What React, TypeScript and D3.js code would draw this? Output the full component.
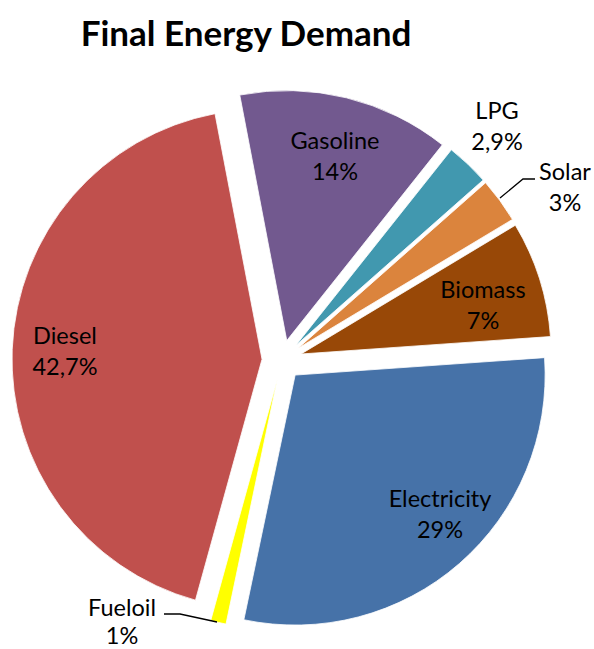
import React from "react";
import * as d3 from "d3";

const categories = ["Electricity", "Fueloil", "Diesel", "Gasoline", "LPG", "Solar", "Biomass"];
const values = [29.4, 1.0, 42.7, 13.7, 2.8, 2.9, 7.5];
const labelTexts = ["29%", "1%", "42,7%", "14%", "2,9%", "3%", "7%"];
const colors = ["#4672A8", "#FFFF00", "#C0504D", "#72598F", "#4198AF", "#DB843D", "#984807"];

// label layout (text anchor centres, first-line baseline, line gap)
const labelPos: Record<string, [number, number, number]> = {
  Electricity: [440, 507, 31],
  Fueloil: [122, 616, 28],
  Diesel: [65, 344, 31],
  Gasoline: [335, 149, 31],
  LPG: [497, 119, 31],
  Solar: [565, 180, 31],
  Biomass: [483, 298, 31],
};

const W = 594;
const H = 649;
const CX = 282;
const CY = 360;
const R = 250;
const EXPLODE = 20;
const START_DEG = 86;

export default function App() {
  const pie = d3
    .pie<number>()
    .sort(null)
    .value((d) => d)
    .startAngle((START_DEG * Math.PI) / 180)
    .endAngle((START_DEG * Math.PI) / 180 + 2 * Math.PI);
  const arcs = pie(values);
  const arcGen = d3.arc<d3.PieArcDatum<number>>().innerRadius(0).outerRadius(R);
  const font = "Lato, 'Open Sans', sans-serif";

  return (
    <svg
      width={W}
      height={H}
      style={{ position: "absolute", left: 0, top: 0, background: "#fff" }}
      xmlns="http://www.w3.org/2000/svg"
    >
      <text
        x={246}
        y={46}
        textAnchor="middle"
        fontFamily={font}
        fontWeight={700}
        fontSize={35}
        fill="#000"
      >
        Final Energy Demand
      </text>
      <g transform={`translate(${CX},${CY})`}>
        {arcs.map((a, i) => {
          const mid = (a.startAngle + a.endAngle) / 2;
          const dx = Math.sin(mid) * EXPLODE;
          const dy = -Math.cos(mid) * EXPLODE;
          return (
            <path
              key={categories[i]}
              d={arcGen(a) || ""}
              transform={`translate(${dx},${dy})`}
              fill={colors[i]}
              stroke="#fff"
              strokeWidth={0.8}
            />
          );
        })}
      </g>
      {/* leader lines */}
      <polyline points="500,198 523,179 535,179" fill="none" stroke="#000" strokeWidth={1.3} />
      <polyline points="164,614 180,614 217,622" fill="none" stroke="#000" strokeWidth={1.3} />
      {categories.map((c, i) => {
        const [x, y, gap] = labelPos[c];
        return (
          <text
            key={c}
            x={x}
            y={y}
            textAnchor="middle"
            fontFamily={font}
            fontSize={23.5}
            fill="#000"
          >
            <tspan x={x}>{c}</tspan>
            <tspan x={x} dy={gap}>
              {labelTexts[i]}
            </tspan>
          </text>
        );
      })}
    </svg>
  );
}
